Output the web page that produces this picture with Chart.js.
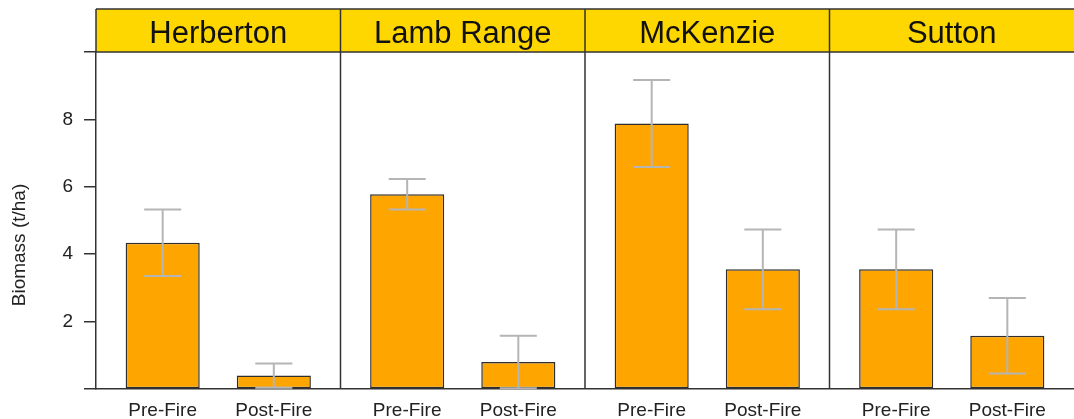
<!DOCTYPE html>
<html>
<head>
<meta charset="utf-8">
<title>Biomass by site</title>
<script src="https://cdn.jsdelivr.net/npm/chart.js@4/dist/chart.umd.min.js"></script>
<style>
  html, body { margin: 0; padding: 0; background: #fff; }
  #wrap { width: 1074px; height: 419px; position: relative; }
</style>
</head>
<body>
<div id="wrap"><canvas id="biomassChart"></canvas></div>
<script>
// site panels and fire phases
const sites = ['Herberton', 'Lamb Range', 'McKenzie', 'Sutton'];
const phases = ['Pre-Fire', 'Post-Fire'];

// mean biomass (t/ha) and standard error per site
const preMean = [4.34, 5.78, 7.88, 3.55];
const postMean = [0.40, 0.80, 3.55, 1.58];
const preSE = [0.99, 0.45, 1.29, 1.18];
const postSE = [0.36, 0.78, 1.18, 1.12];

const yTickValues = [2, 4, 6, 8];
const yTitle = 'Biomass (t/ha)';

// each panel spans PANEL units on the x axis, bars are 1 unit wide
const PANEL = 3.3;
const barOffsets = [0.9, 2.4];

const points = [];
const errors = [];
sites.forEach((site, i) => {
    const means = [preMean[i], postMean[i]];
    const ses = [preSE[i], postSE[i]];
    means.forEach((m, j) => {
        const x = i * PANEL + barOffsets[j];
        points.push({ x: x, y: m });
        errors.push({ x: x, lo: Math.max(0, m - ses[j]), hi: m + ses[j] });
    });
});
const tickPositions = points.map(p => p.x);

const AXIS = '#333333';
const FONT = '"Liberation Sans", Arial, sans-serif';
const HEADER_TOP = 9;

const panelPlugin = {
    id: 'panels',
    afterDatasetsDraw(chart) {
        const { ctx, scales: { x, y } } = chart;
        ctx.save();
        ctx.strokeStyle = '#b5b5b5';
        ctx.lineWidth = 2;
        errors.forEach(e => {
            const cx = x.getPixelForValue(e.x);
            const half = x.getPixelForValue(e.x + 0.25) - cx;
            const yLo = y.getPixelForValue(e.lo);
            const yHi = y.getPixelForValue(e.hi);
            ctx.beginPath();
            ctx.moveTo(cx, yLo); ctx.lineTo(cx, yHi);
            ctx.moveTo(cx - half, yHi); ctx.lineTo(cx + half, yHi);
            ctx.moveTo(cx - half, yLo); ctx.lineTo(cx + half, yLo);
            ctx.stroke();
        });
        ctx.restore();
    },
    afterDraw(chart) {
        const { ctx, chartArea: area, scales: { x } } = chart;
        ctx.save();
        // strip headers
        ctx.fillStyle = '#FFD700';
        ctx.fillRect(area.left, HEADER_TOP, area.right - area.left, area.top - HEADER_TOP);
        ctx.strokeStyle = AXIS;
        ctx.lineWidth = 1.5;
        ctx.beginPath();
        ctx.moveTo(area.left, HEADER_TOP); ctx.lineTo(area.right, HEADER_TOP);
        ctx.moveTo(area.left, area.top); ctx.lineTo(area.right, area.top);
        ctx.moveTo(area.left, HEADER_TOP); ctx.lineTo(area.left, area.top);
        for (let i = 1; i < sites.length; i++) {
            const px = x.getPixelForValue(i * PANEL);
            ctx.moveTo(px, HEADER_TOP); ctx.lineTo(px, area.bottom);
        }
        ctx.stroke();

        ctx.fillStyle = '#111';
        ctx.font = '31px ' + FONT;
        ctx.textAlign = 'center';
        ctx.textBaseline = 'alphabetic';
        sites.forEach((site, i) => {
            const cx = x.getPixelForValue(i * PANEL + PANEL / 2);
            ctx.fillText(site, cx, 42.5);
        });

        // y axis title
        ctx.translate(25, 245);
        ctx.rotate(-Math.PI / 2);
        ctx.font = '19px ' + FONT;
        ctx.fillStyle = '#222';
        ctx.fillText(yTitle, 0, 0);
        ctx.restore();
    }
};

Chart.defaults.font.family = FONT;
Chart.defaults.color = '#222';

new Chart(document.getElementById('biomassChart'), {
    type: 'bar',
    data: {
        datasets: [{
            label: 'Biomass',
            data: points,
            backgroundColor: '#FFA500',
            borderColor: '#2e2e2e',
            borderWidth: 1.5,
            borderSkipped: false,
            categoryPercentage: 1,
            barPercentage: 2 / 3
        }]
    },
    options: {
        responsive: true,
        maintainAspectRatio: false,
        animation: false,
        layout: { padding: { top: 52, right: 0, bottom: 0, left: 0 } },
        plugins: { legend: { display: false }, tooltip: { enabled: false } },
        scales: {
            x: {
                type: 'linear',
                offset: false,
                min: 0,
                max: PANEL * sites.length,
                afterBuildTicks: scale => {
                    scale.ticks = tickPositions.map(v => ({ value: v }));
                },
                afterFit: scale => { scale.height = 30; },
                ticks: {
                    autoSkip: false,
                    maxRotation: 0,
                    padding: 2,
                    font: { size: 19 },
                    color: '#222',
                    callback: (value, index) => phases[index % phases.length]
                },
                grid: { display: false },
                border: { display: true, color: AXIS, width: 1.5 }
            },
            y: {
                min: 0,
                max: 10,
                afterBuildTicks: scale => {
                    scale.ticks = [0].concat(yTickValues, [10]).map(v => ({ value: v }));
                },
                afterFit: scale => { scale.width = 96; },
                ticks: {
                    padding: 11,
                    font: { size: 19 },
                    color: '#222',
                    callback: value => (yTickValues.includes(value) ? value : '')
                },
                grid: {
                    drawOnChartArea: false,
                    drawTicks: true,
                    tickLength: 12,
                    color: AXIS,
                    lineWidth: 1.5
                },
                border: { display: true, color: AXIS, width: 1.5 }
            }
        }
    },
    plugins: [panelPlugin]
});
</script>
</body>
</html>
